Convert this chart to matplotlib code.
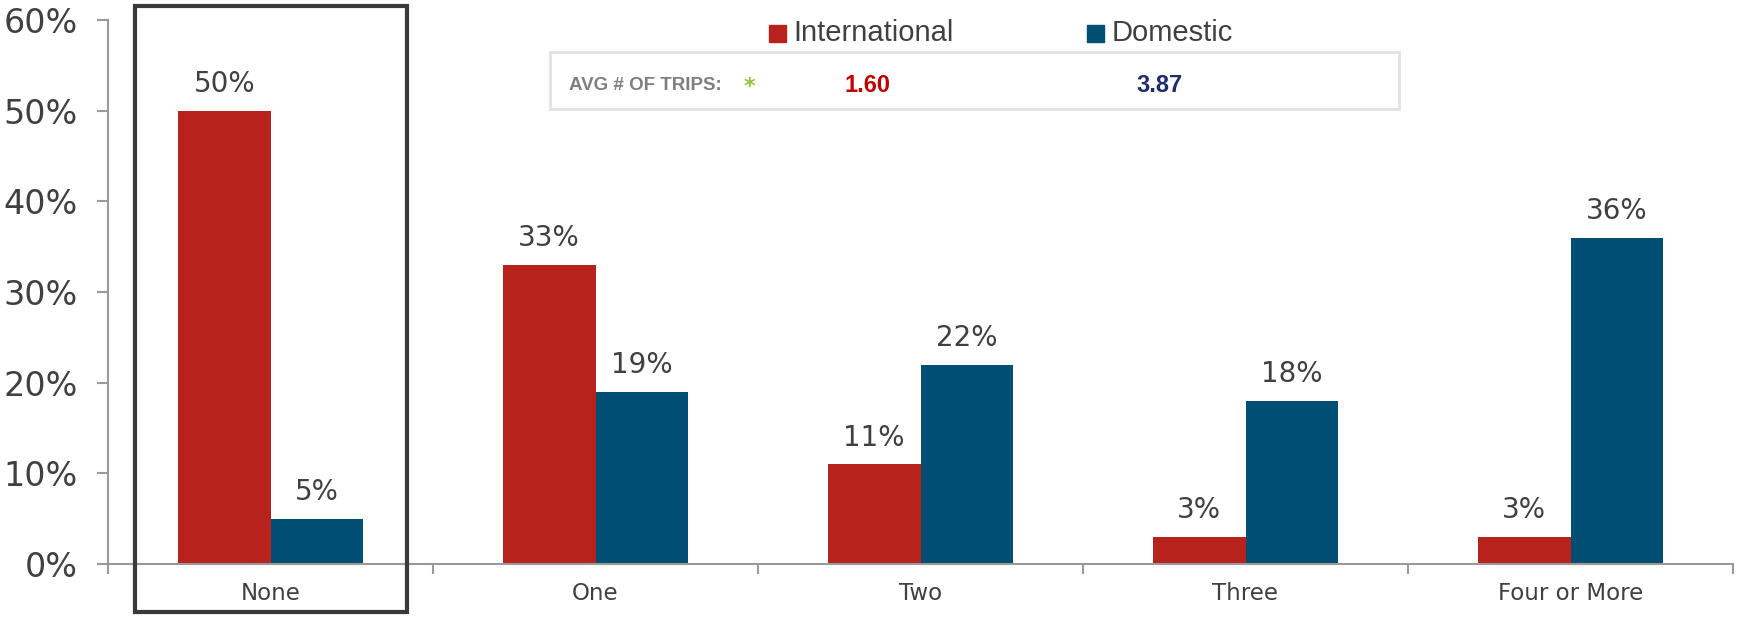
import matplotlib
matplotlib.use("Agg")
import matplotlib.pyplot as plt
from matplotlib.patches import Rectangle
import numpy as np

categories = ["None", "One", "Two", "Three", "Four or More"]
international = [50, 33, 11, 3, 3]
domestic = [5, 19, 22, 18, 36]
y_ticks = [0, 10, 20, 30, 40, 50, 60]
avg_label = "AVG # OF TRIPS:"
avg_international = "1.60"
avg_domestic = "3.87"

RED = "#b8221c"
BLUE = "#004e72"
TXT = "#404040"
W, H = 1748, 620
NARROW = ['Liberation Sans', 'DejaVu Sans']

plt.rcParams['font.family'] = ['DejaVu Sans']

fig = plt.figure(figsize=(W / 100, H / 100), dpi=100)
ax = fig.add_axes([108 / W, 1 - 564 / H, (1733 - 108) / W, (564 - 20) / H])

x = np.arange(len(categories))
bw = 0.285
b1 = ax.bar(x - bw / 2, international, bw, color=RED, edgecolor="none")
b2 = ax.bar(x + bw / 2, domestic, bw, color=BLUE, edgecolor="none")

# value labels above bars
for bars, vals in ((b1, international), (b2, domestic)):
    for b, v in zip(bars, vals):
        ax.annotate(f"{v}%", (b.get_x() + b.get_width() / 2, v),
                    xytext=(0, 9), textcoords="offset points",
                    ha="center", va="bottom", fontsize=20, color=TXT)

ax.set_xlim(-0.5, len(categories) - 0.5)
ax.set_ylim(0, 60)
ax.set_yticks(y_ticks)
ax.set_yticklabels([f"{t}%" for t in y_ticks], fontsize=24, color=TXT)
ax.set_xticks(x)
ax.set_xticklabels(categories, fontsize=16.5, color=TXT)
ax.set_xticks(np.arange(len(categories) + 1) - 0.5, minor=True)
ax.tick_params(axis="x", which="major", length=0, pad=13)
ax.tick_params(axis="x", which="minor", length=7, color="#999999", width=1.5)
ax.tick_params(axis="y", length=8, color="#999999", width=1.5, pad=14)

for s in ("top", "right"):
    ax.spines[s].set_visible(False)
for s in ("left", "bottom"):
    ax.spines[s].set_color("#999999")
    ax.spines[s].set_linewidth(1.5)

# highlight box around "None"
fig.add_artist(Rectangle((135 / W, 1 - 612 / H), (407 - 135) / W, (612 - 6) / H,
                         transform=fig.transFigure, fill=False,
                         edgecolor="#3a3a3a", linewidth=3, zorder=5))

# legend + average box
fig.add_artist(Rectangle((550 / W, 1 - 109 / H), (1399 - 550) / W, (109 - 52) / H,
                         transform=fig.transFigure, facecolor="white",
                         edgecolor="#e2e2e2", linewidth=2, zorder=4))

def fx(px):
    return px / W

def fy(py):
    return 1 - py / H

fig.add_artist(Rectangle((fx(769), fy(42)), 17 / W, 17 / H, transform=fig.transFigure,
                         color=RED, zorder=6))
fig.text(fx(793), fy(33), "International", fontsize=21, color=TXT, va="center",
         family=NARROW, zorder=6)
fig.add_artist(Rectangle((fx(1087), fy(42)), 17 / W, 17 / H, transform=fig.transFigure,
                         color=BLUE, zorder=6))
fig.text(fx(1112), fy(33), "Domestic", fontsize=21, color=TXT, va="center",
         family=NARROW, zorder=6)

fig.text(fx(569), fy(86), avg_label, fontsize=13.5, color="#7f7f7f", va="center",
         fontweight="bold", family=NARROW, zorder=6)
fig.text(fx(744), fy(87), "*", fontsize=16, color="#8dc63f", va="center",
         fontweight="bold", zorder=6)
fig.text(fx(867), fy(86), avg_international, fontsize=17, color="#c00000", va="center",
         ha="center", fontweight="bold", family=NARROW, zorder=6)
fig.text(fx(1159), fy(86), avg_domestic, fontsize=17, color="#1f2d6b", va="center",
         ha="center", fontweight="bold", family=NARROW, zorder=6)

fig.savefig("out.png", dpi=100)
